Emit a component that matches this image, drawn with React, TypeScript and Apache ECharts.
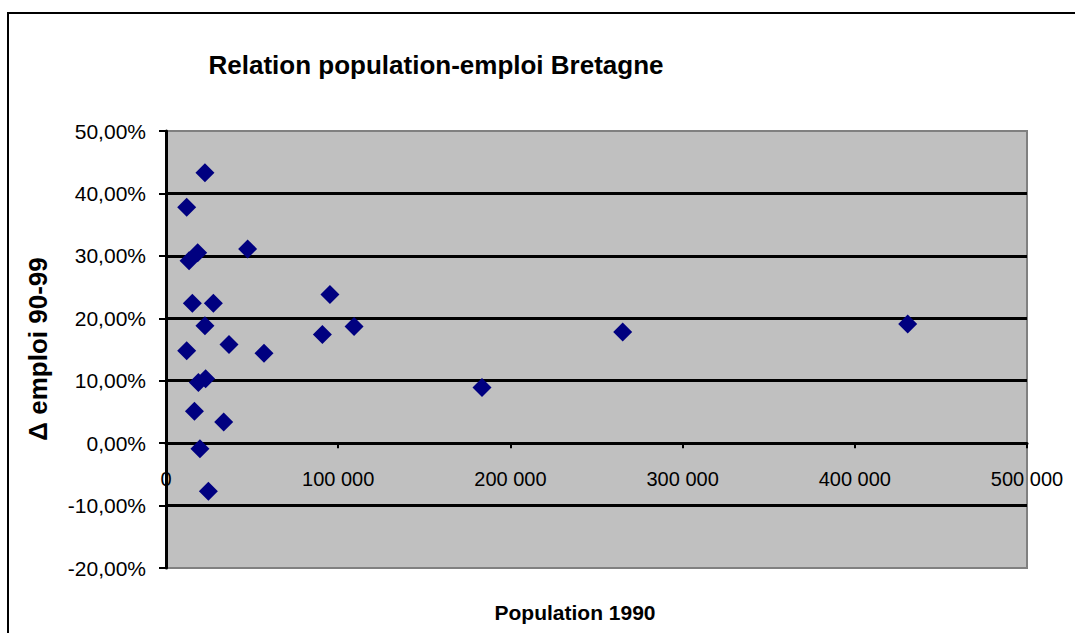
import React, { useEffect, useRef } from "react";
import * as echarts from "echarts";

const population1990 = [22600, 12000, 13400, 18400, 47400, 15300, 27500, 22600, 12000, 36600, 56900, 18800, 23000, 16500, 33500, 19700, 24600, 95200, 90800, 109200, 183500, 265200, 430700];
const emploiDelta = [43.3, 37.8, 29.2, 30.5, 31.1, 22.4, 22.4, 18.8, 14.8, 15.8, 14.4, 9.7, 10.3, 5.1, 3.4, -0.9, -7.7, 23.8, 17.4, 18.7, 8.9, 17.8, 19.1];

const titleText = "Relation population-emploi Bretagne";
const xName = "Population 1990";
const yName = "Δ emploi 90-99";

const FONT = "'Liberation Sans', Arial, sans-serif";

const GRID_TOP = 131;
const GRID_BOTTOM = 65;
const GRID_H = 633 - GRID_TOP - GRID_BOTTOM;
const Y_MIN = -20;
const Y_MAX = 50;

export default function App() {
  const ref = useRef<HTMLDivElement>(null);
  useEffect(() => {
    if (!ref.current) return;
    const chart = echarts.init(ref.current, undefined, { renderer: "svg" });
    const points = population1990.map((x, i) => [x, emploiDelta[i]]);
    // place the x axis on the zero line
    const zeroOffset = -GRID_H * ((0 - Y_MIN) / (Y_MAX - Y_MIN));
    chart.setOption({
      animation: false,
      backgroundColor: "#ffffff",
      textStyle: { fontFamily: FONT },
      grid: {
        left: 166,
        top: GRID_TOP,
        right: 48,
        bottom: GRID_BOTTOM,
        show: true,
        backgroundColor: "#C0C0C0",
        borderColor: "#808080",
        borderWidth: 2,
      },
      graphic: [
        {
          type: "rect",
          shape: { x: 8, y: 13, width: 1200, height: 800 },
          style: { fill: "none", stroke: "#000", lineWidth: 2 },
          silent: true,
        },
        {
          type: "text",
          x: 436,
          y: 65,
          style: {
            text: titleText,
            font: `bold 26px ${FONT}`,
            fill: "#000",
            textAlign: "center",
            textVerticalAlign: "middle",
          },
        },
        {
          type: "text",
          x: 575,
          y: 612,
          style: {
            text: xName,
            font: `bold 21px ${FONT}`,
            fill: "#000",
            textAlign: "center",
            textVerticalAlign: "middle",
          },
        },
        {
          type: "text",
          x: 38,
          y: 349,
          rotation: Math.PI / 2,
          style: {
            text: yName,
            font: `bold 26px ${FONT}`,
            fill: "#000",
            textAlign: "center",
            textVerticalAlign: "middle",
          },
        },
      ],
      xAxis: {
        type: "value",
        min: 0,
        max: 500000,
        interval: 100000,
        offset: zeroOffset,
        axisLine: { show: true, onZero: false, lineStyle: { color: "#000", width: 3 } },
        axisTick: { show: true, inside: false, length: 5, lineStyle: { color: "#000", width: 2 } },
        axisLabel: {
          color: "#000",
          fontSize: 20,
          fontFamily: FONT,
          margin: 26,
          formatter: (v: number) => (v === 0 ? "0" : `${v / 1000} 000`),
        },
        splitLine: { show: false },
      },
      yAxis: {
        type: "value",
        min: Y_MIN,
        max: Y_MAX,
        interval: 10,
        axisLine: { show: true, onZero: false, lineStyle: { color: "#000", width: 3 } },
        axisTick: { show: true, inside: false, length: 7, lineStyle: { color: "#000", width: 2 } },
        axisLabel: {
          color: "#000",
          fontSize: 21,
          fontFamily: FONT,
          margin: 20,
          formatter: (v: number) => `${v.toFixed(2).replace(".", ",")}%`,
        },
        splitLine: {
          show: true,
          showMinLine: false,
          showMaxLine: false,
          lineStyle: { color: "#000", width: 3 },
        },
      },
      series: [
        {
          type: "scatter",
          data: points,
          symbol: "diamond",
          symbolSize: 19,
          itemStyle: { color: "#000080", opacity: 1 },
        },
      ],
    });
    return () => chart.dispose();
  }, []);
  return (
    <div
      ref={ref}
      style={{ position: "fixed", left: 0, top: 0, width: 1075, height: 633 }}
    />
  );
}
